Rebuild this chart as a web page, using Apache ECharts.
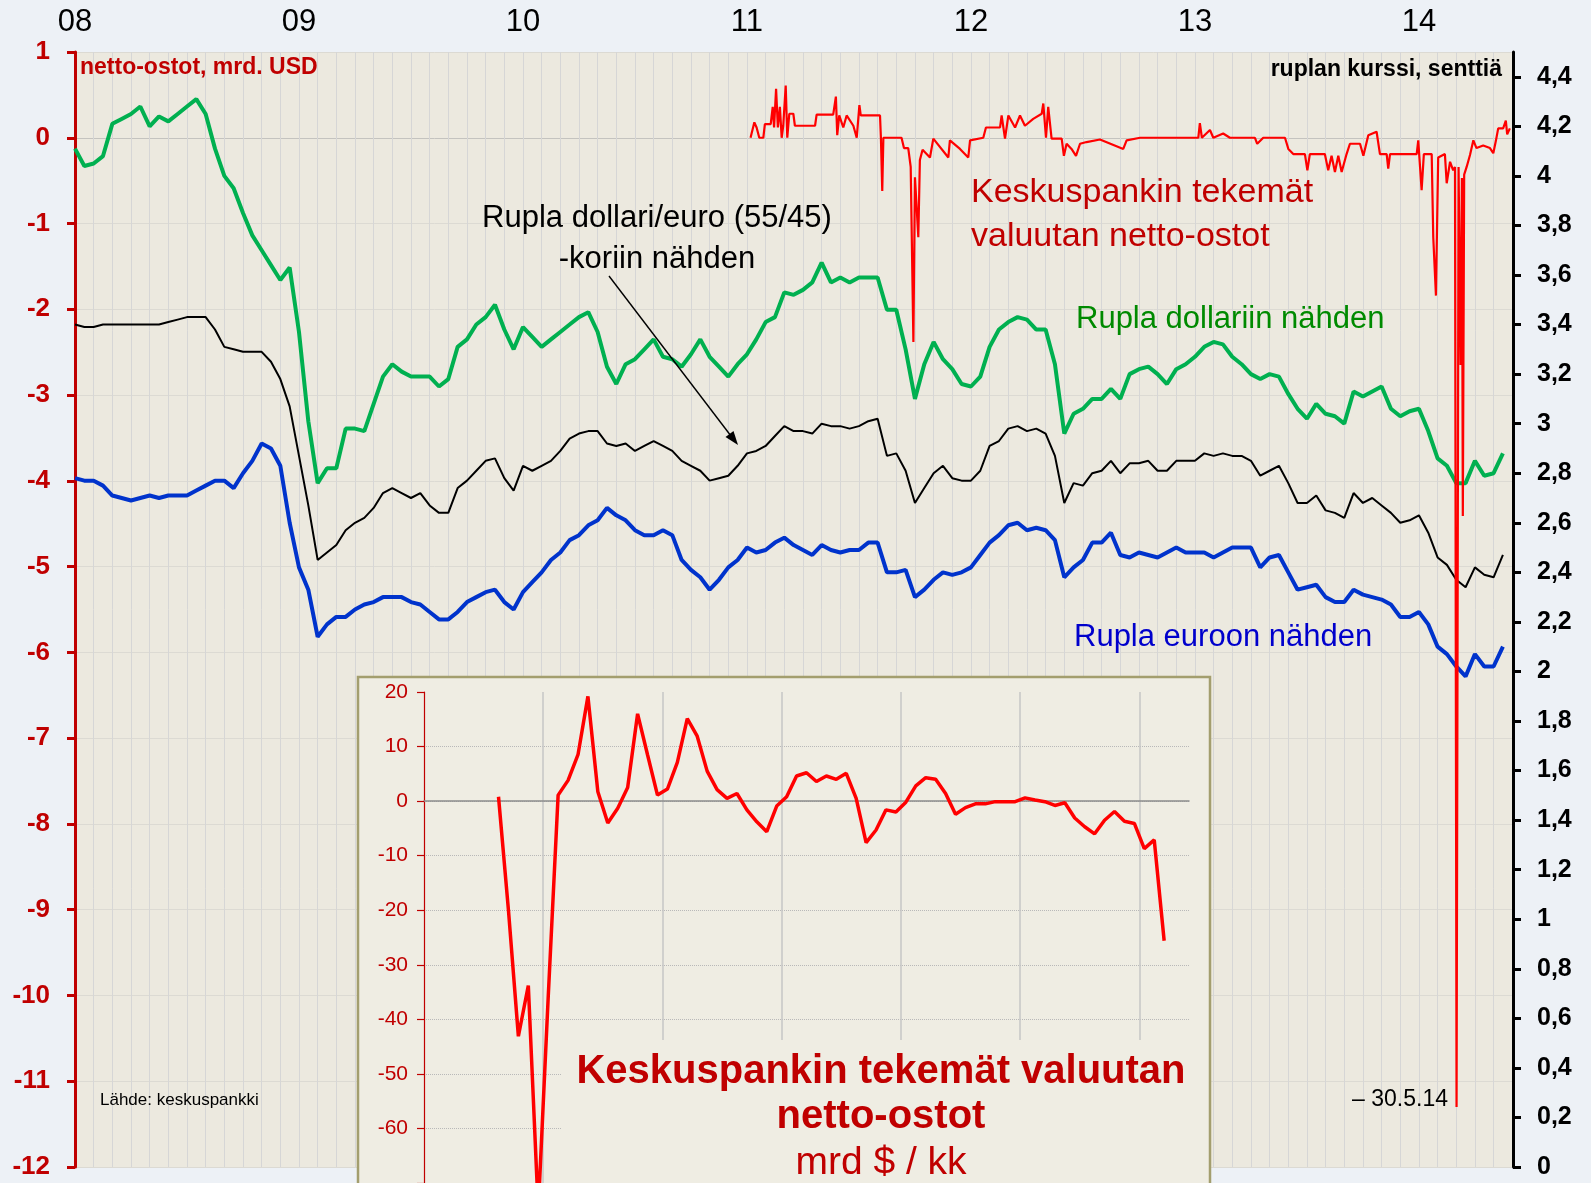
<!DOCTYPE html>
<html>
<head>
<meta charset="utf-8">
<title>Rupla ja keskuspankin valuutan netto-ostot</title>
<script src="https://cdn.jsdelivr.net/npm/echarts@6/dist/echarts.min.js"></script>
<style>
  html, body { margin: 0; padding: 0; background: #edf1f6; }
  #chart { width: 1591px; height: 1183px; }
</style>
</head>
<body>
<div id="chart"></div>
<script>
// ruplan kurssi senttiä, luettu puolen kuukauden välein alkaen 1.1.2008
const rateStep = 0.5; // kuukautta
const rubUsd = [
  4.11, 4.04, 4.05, 4.08, 4.21, 4.23, 4.25, 4.28, 4.20, 4.24, 4.22, 4.25,
  4.28, 4.31, 4.25, 4.11, 4.00, 3.95, 3.85, 3.76, 3.70, 3.64, 3.58, 3.63,
  3.37, 3.01, 2.76, 2.82, 2.82, 2.98, 2.98, 2.97, 3.08, 3.19, 3.24, 3.21,
  3.19, 3.19, 3.19, 3.15, 3.18, 3.31, 3.34, 3.40, 3.43, 3.48, 3.38, 3.30,
  3.39, 3.35, 3.31, 3.34, 3.37, 3.40, 3.43, 3.45, 3.37, 3.23, 3.16, 3.24,
  3.26, 3.30, 3.34, 3.27, 3.26, 3.23, 3.28, 3.34, 3.27, 3.23, 3.19, 3.24,
  3.28, 3.34, 3.41, 3.43, 3.53, 3.52, 3.54, 3.57, 3.65, 3.57, 3.59, 3.57,
  3.59, 3.59, 3.59, 3.46, 3.46, 3.30, 3.10, 3.24, 3.33, 3.26, 3.22, 3.16,
  3.15, 3.19, 3.31, 3.38, 3.41, 3.43, 3.42, 3.38, 3.38, 3.24, 2.96, 3.04,
  3.06, 3.10, 3.10, 3.14, 3.10, 3.20, 3.22, 3.23, 3.20, 3.16, 3.22, 3.24,
  3.27, 3.31, 3.33, 3.32, 3.27, 3.24, 3.20, 3.18, 3.20, 3.19, 3.12, 3.06,
  3.02, 3.08, 3.04, 3.03, 3.00, 3.13, 3.11, 3.13, 3.15, 3.06, 3.03, 3.05,
  3.06, 2.97, 2.86, 2.83, 2.76, 2.76, 2.85, 2.79, 2.80, 2.88
];
const rubBasket = [
  3.40, 3.39, 3.39, 3.40, 3.40, 3.40, 3.40, 3.40, 3.40, 3.40, 3.41, 3.42,
  3.43, 3.43, 3.43, 3.38, 3.31, 3.30, 3.29, 3.29, 3.29, 3.25, 3.18, 3.07,
  2.87, 2.67, 2.45, 2.48, 2.51, 2.57, 2.60, 2.62, 2.66, 2.72, 2.74, 2.72,
  2.70, 2.72, 2.67, 2.64, 2.64, 2.74, 2.77, 2.81, 2.85, 2.86, 2.78, 2.73,
  2.83, 2.81, 2.83, 2.85, 2.89, 2.94, 2.96, 2.97, 2.97, 2.92, 2.91, 2.92,
  2.89, 2.91, 2.93, 2.91, 2.89, 2.85, 2.83, 2.81, 2.77, 2.78, 2.79, 2.83,
  2.88, 2.89, 2.91, 2.95, 2.99, 2.97, 2.97, 2.96, 3.00, 2.99, 2.99, 2.98,
  2.99, 3.01, 3.02, 2.87, 2.88, 2.81, 2.68, 2.74, 2.80, 2.83, 2.78, 2.77,
  2.77, 2.81, 2.91, 2.93, 2.98, 2.99, 2.97, 2.98, 2.96, 2.87, 2.68, 2.76,
  2.75, 2.80, 2.81, 2.85, 2.80, 2.84, 2.84, 2.85, 2.81, 2.81, 2.85, 2.85,
  2.85, 2.88, 2.87, 2.88, 2.87, 2.87, 2.85, 2.79, 2.81, 2.83, 2.76, 2.68,
  2.68, 2.71, 2.65, 2.64, 2.62, 2.72, 2.68, 2.70, 2.67, 2.64, 2.60, 2.61,
  2.63, 2.56, 2.46, 2.43, 2.37, 2.34, 2.42, 2.39, 2.38, 2.47
];
const rubEur = [
  2.78, 2.77, 2.77, 2.75, 2.71, 2.70, 2.69, 2.70, 2.71, 2.70, 2.71, 2.71,
  2.71, 2.73, 2.75, 2.77, 2.77, 2.74, 2.80, 2.85, 2.92, 2.90, 2.83, 2.60,
  2.42, 2.33, 2.14, 2.19, 2.22, 2.22, 2.25, 2.27, 2.28, 2.30, 2.30, 2.30,
  2.28, 2.27, 2.24, 2.21, 2.21, 2.24, 2.28, 2.30, 2.32, 2.33, 2.28, 2.25,
  2.32, 2.36, 2.40, 2.45, 2.48, 2.53, 2.55, 2.59, 2.61, 2.66, 2.63, 2.61,
  2.57, 2.55, 2.55, 2.57, 2.55, 2.45, 2.41, 2.38, 2.33, 2.37, 2.42, 2.45,
  2.50, 2.48, 2.49, 2.52, 2.54, 2.51, 2.49, 2.47, 2.51, 2.49, 2.48, 2.49,
  2.49, 2.52, 2.52, 2.40, 2.40, 2.41, 2.30, 2.33, 2.37, 2.40, 2.39, 2.40,
  2.42, 2.47, 2.52, 2.55, 2.59, 2.60, 2.57, 2.58, 2.57, 2.53, 2.38, 2.42,
  2.45, 2.52, 2.52, 2.56, 2.47, 2.46, 2.48, 2.47, 2.46, 2.48, 2.50, 2.48,
  2.48, 2.48, 2.46, 2.48, 2.50, 2.50, 2.50, 2.42, 2.46, 2.47, 2.40, 2.33,
  2.34, 2.35, 2.30, 2.28, 2.28, 2.33, 2.31, 2.30, 2.29, 2.27, 2.22, 2.22,
  2.24, 2.19, 2.10, 2.07, 2.02, 1.98, 2.07, 2.02, 2.02, 2.10
];

// keskuspankin päivittäiset netto-ostot: [vuosi, mrd USD]
const cbrDaily = [
  [2011.016, 0], [2011.033, 0.18], [2011.043, 0.12], [2011.055, 0], [2011.073, 0],
  [2011.080, 0.16], [2011.106, 0.16], [2011.115, 0.36], [2011.121, 0.12], [2011.130, 0.57],
  [2011.138, 0.12], [2011.147, 0.36], [2011.155, 0], [2011.162, 0.14], [2011.173, 0.61],
  [2011.180, 0], [2011.189, 0.28], [2011.207, 0.28], [2011.214, 0.14], [2011.304, 0.14],
  [2011.311, 0.27], [2011.385, 0.27], [2011.397, 0.48], [2011.403, 0.03], [2011.412, 0.26],
  [2011.430, 0.12], [2011.445, 0.26], [2011.475, 0.14], [2011.490, 0], [2011.502, 0.38],
  [2011.508, 0.26], [2011.594, 0.26], [2011.598, 0], [2011.604, -0.62], [2011.609, 0],
  [2011.690, 0], [2011.701, -0.12], [2011.720, -0.12], [2011.731, -0.34], [2011.743, -2.38],
  [2011.750, -0.46], [2011.765, -1.16], [2011.772, -0.26], [2011.784, -0.14], [2011.817, -0.23],
  [2011.832, -0.01], [2011.899, -0.23], [2011.906, -0.03], [2011.951, -0.13], [2011.988, -0.23],
  [2011.996, -0.03], [2012.055, 0], [2012.067, 0.12], [2012.130, 0.12], [2012.137, 0.26],
  [2012.152, -0.01], [2012.167, 0.26], [2012.197, 0.12], [2012.219, 0.26], [2012.241, 0.14],
  [2012.278, 0.22], [2012.316, 0.28], [2012.323, 0.40], [2012.335, 0], [2012.345, 0.36],
  [2012.360, -0.01], [2012.405, -0.01], [2012.415, -0.21], [2012.427, -0.07], [2012.449, -0.13],
  [2012.469, -0.21], [2012.487, -0.07], [2012.516, -0.05], [2012.576, -0.02], [2012.680, -0.13],
  [2012.695, -0.03], [2012.755, 0], [2013.015, 0], [2013.022, 0.17], [2013.031, 0],
  [2013.067, 0.09], [2013.082, 0], [2013.126, 0.05], [2013.156, 0], [2013.268, 0],
  [2013.278, -0.07], [2013.305, 0], [2013.402, 0], [2013.417, -0.13], [2013.439, -0.19],
  [2013.491, -0.19], [2013.502, -0.38], [2013.513, -0.19], [2013.580, -0.19], [2013.595, -0.38],
  [2013.610, -0.21], [2013.625, -0.40], [2013.640, -0.21], [2013.655, -0.40], [2013.677, -0.19],
  [2013.692, -0.07], [2013.737, -0.07], [2013.752, -0.21], [2013.774, 0.03], [2013.811, 0.07],
  [2013.826, -0.19], [2013.856, -0.19], [2013.863, -0.36], [2013.871, -0.19], [2013.990, -0.19],
  [2013.997, -0.03], [2014.012, -0.61], [2014.022, -0.19], [2014.057, -0.19], [2014.064, -1.16],
  [2014.076, -1.84], [2014.086, -0.23], [2014.116, -0.19], [2014.124, -0.53], [2014.139, -0.28],
  [2014.153, -0.38], [2014.161, -0.34], [2014.168, -11.3], [2014.177, -0.34], [2014.186, -2.65],
  [2014.192, -0.47], [2014.196, -4.41], [2014.202, -0.43], [2014.213, -0.34], [2014.228, -0.20],
  [2014.243, -0.03], [2014.257, -0.12], [2014.287, -0.09], [2014.317, -0.12], [2014.332, -0.18],
  [2014.344, -0.03], [2014.354, 0.11], [2014.376, 0.11], [2014.388, 0.20], [2014.394, 0.04],
  [2014.406, 0.11]
];

// kuukausittaiset netto-ostot mrd $, elokuu 2008 - maaliskuu 2014
const monthlyStart = 7.5; // kuukautta vuoden 2008 alusta, kuun puoliväli
const cbrMonthly = [
  0.8, -20, -43.1, -33.8, -75, -36, 1.1, 3.8, 8.5, 19.2, 1.7, -4.0,
  -1.3, 2.5, 16.0, 8.5, 1.1, 2.2, 7.1, 15.1, 11.9, 5.5, 2.1, 0.5,
  1.4, -1.6, -3.8, -5.6, -0.9, 0.8, 4.6, 5.2, 3.6, 4.6, 4.0, 5.1,
  0.5, -7.6, -5.3, -1.6, -2.0, -0.2, 2.8, 4.3, 4.0, 1.4, -2.4, -1.2,
  -0.5, -0.5, -0.1, -0.1, -0.1, 0.6, 0.2, -0.1, -0.8, -0.3, -3.1, -4.7,
  -6.0, -3.5, -1.9, -3.7, -4.1, -8.7, -7.1, -25.6
];

const yearLabels = ['08', '09', '10', '11', '12', '13', '14'];

const chart = echarts.init(document.getElementById('chart'));
const font = '"Liberation Sans", Arial, sans-serif';
const darkRed = '#c00000';

const toMonth = y => (y - 2008) * 12;
const rateData = arr => arr.map((v, i) => [i * rateStep, v]);

// vaakaviivat vasemman akselin kokonaisluvuille, nollaviiva tummempi
const leftGridColors = [];
for (let v = -12; v <= 1; v++) leftGridColors.push(v === 0 ? '#c4c3bf' : '#dcdad3');

const rightTicks = [];
for (let k = 0; k <= 22; k++) rightTicks.push(k / 5);

function txt(x, y, text, size, color, opts) {
  opts = opts || {};
  return {
    type: 'text', x: x, y: y, z: opts.z || 10,
    style: {
      text: text, fill: color,
      font: (opts.bold ? 'bold ' : '') + size + 'px ' + font,
      align: opts.align || 'left', verticalAlign: 'middle',
      textAlign: opts.align || 'left', textVerticalAlign: 'middle'
    }
  };
}

const option = {
  backgroundColor: '#edf1f6',
  animation: false,
  textStyle: { fontFamily: font },
  grid: [
    { left: 75, right: 78, top: 52, bottom: 16, show: true, backgroundColor: '#ece9df', borderWidth: 0 },
    { left: 424, top: 692, width: 765, height: 508.5 }
  ],
  xAxis: [
    {
      type: 'value', gridIndex: 0, position: 'top', min: 0, max: 77.04, interval: 1,
      axisLine: { show: false }, axisTick: { show: false },
      axisLabel: {
        fontSize: 31, color: '#000', margin: 14,
        formatter: v => (v % 12 === 0 && yearLabels[v / 12]) ? yearLabels[v / 12] : ''
      },
      splitLine: { show: true, lineStyle: { color: '#d6d6d6', width: 1 } }
    },
    {
      type: 'value', gridIndex: 1, min: 0, max: 77, interval: 12, z: 3,
      axisLine: { show: true, onZero: true, lineStyle: { color: '#8c8c8c', width: 1.5 } },
      axisTick: { show: false }, axisLabel: { show: false },
      splitLine: { show: true, showMinLine: false, showMaxLine: false, lineStyle: { color: '#c6c6c6', width: 1.5 } }
    }
  ],
  yAxis: [
    {
      type: 'value', gridIndex: 0, position: 'left', min: -12, max: 1, interval: 1,
      axisLine: { show: true, onZero: false, lineStyle: { color: darkRed, width: 3 } },
      axisTick: { show: true, length: 8, lineStyle: { color: darkRed, width: 3 } },
      axisLabel: { color: darkRed, fontSize: 26, fontWeight: 'bold', margin: 25 },
      splitLine: { show: true, lineStyle: { color: leftGridColors, width: 1 } }
    },
    {
      type: 'value', gridIndex: 0, position: 'right', min: 0, max: 4.5,
      axisLine: { show: true, onZero: false, lineStyle: { color: '#000', width: 3 } },
      axisTick: { show: true, length: 8, customValues: rightTicks, lineStyle: { color: '#000', width: 3 } },
      axisLabel: {
        color: '#000', fontSize: 25, fontWeight: 'bold', margin: 24, customValues: rightTicks,
        formatter: v => String(Math.round(v * 10) / 10).replace('.', ',')
      },
      splitLine: { show: false }
    },
    {
      type: 'value', gridIndex: 1, min: -70, max: 20, interval: 10, z: 3,
      axisLine: { show: true, onZero: true, lineStyle: { color: darkRed, width: 1.2 } },
      axisTick: { show: true, length: 7, lineStyle: { color: darkRed, width: 1.2 } },
      axisLabel: { color: darkRed, fontSize: 21, margin: 16, formatter: v => v < -65 ? '' : String(v) },
      splitLine: { show: true, showMaxLine: false, lineStyle: { color: '#b9b9b9', width: 1, type: 'dotted' } }
    }
  ],
  series: [
    {
      name: 'Rupla dollariin nähden', type: 'line', xAxisIndex: 0, yAxisIndex: 1,
      data: rateData(rubUsd), symbol: 'none', z: 2,
      lineStyle: { color: '#00b050', width: 4 }, itemStyle: { color: '#00b050' }
    },
    {
      name: 'Rupla dollari/euro -koriin nähden', type: 'line', xAxisIndex: 0, yAxisIndex: 1,
      data: rateData(rubBasket), symbol: 'none', z: 2,
      lineStyle: { color: '#000', width: 2 }, itemStyle: { color: '#000' }
    },
    {
      name: 'Rupla euroon nähden', type: 'line', xAxisIndex: 0, yAxisIndex: 1,
      data: rateData(rubEur), symbol: 'none', z: 2,
      lineStyle: { color: '#0033cc', width: 4 }, itemStyle: { color: '#0033cc' }
    },
    {
      name: 'Netto-ostot', type: 'line', xAxisIndex: 0, yAxisIndex: 0,
      data: cbrDaily.map(p => [toMonth(p[0]), p[1]]), symbol: 'none', z: 3,
      lineStyle: { color: '#ff0000', width: 2.2 }, itemStyle: { color: '#ff0000' }
    },
    {
      name: 'Netto-ostot kk', type: 'line', xAxisIndex: 1, yAxisIndex: 2,
      data: cbrMonthly.map((v, i) => [monthlyStart + i, v]), symbol: 'none', z: 4,
      lineStyle: { color: '#ff0000', width: 3.5 }, itemStyle: { color: '#ff0000' }
    }
  ],
  graphic: [
    // pikkukuvan tausta ja otsikon alusta
    { type: 'rect', z: 1, shape: { x: 358, y: 677, width: 852, height: 540 },
      style: { fill: '#efede3', stroke: '#a39e6e', lineWidth: 2.5 } },
    { type: 'rect', z: 5, shape: { x: 562, y: 1040, width: 640, height: 150 },
      style: { fill: '#efede3' } },
    txt(881, 1072, 'Keskuspankin tekemät valuutan', 40, darkRed, { bold: true, align: 'center', z: 6 }),
    txt(881, 1117, 'netto-ostot', 40, darkRed, { bold: true, align: 'center', z: 6 }),
    txt(881, 1163, 'mrd $ / kk', 39, darkRed, { align: 'center', z: 6 }),

    txt(80, 68, 'netto-ostot, mrd. USD', 23, darkRed, { bold: true }),
    txt(1502, 70, 'ruplan kurssi, senttiä', 23, '#000', { bold: true, align: 'right' }),
    txt(971, 193, 'Keskuspankin tekemät', 34, darkRed),
    txt(971, 237, 'valuutan netto-ostot', 34, darkRed),
    txt(657, 218, 'Rupla dollari/euro (55/45)', 31, '#000', { align: 'center' }),
    txt(657, 259, '-koriin nähden', 31, '#000', { align: 'center' }),
    txt(1076, 319, 'Rupla dollariin nähden', 31, '#008a00'),
    txt(1074, 637, 'Rupla euroon nähden', 31, '#0000cc'),
    txt(100, 1100, 'Lähde: keskuspankki', 17, '#000'),
    txt(1448, 1100, '– 30.5.14', 23, '#000', { align: 'right' }),

    // nuoli korin tekstistä käyrään
    { type: 'line', z: 10, shape: { x1: 609, y1: 276, x2: 731, y2: 436 },
      style: { stroke: '#000', lineWidth: 1.4 } },
    { type: 'polygon', z: 10, shape: { points: [[738, 445], [725.5, 436.9], [733.5, 430.9]] },
      style: { fill: '#000' } }
  ]
};

chart.setOption(option);
</script>
</body>
</html>
